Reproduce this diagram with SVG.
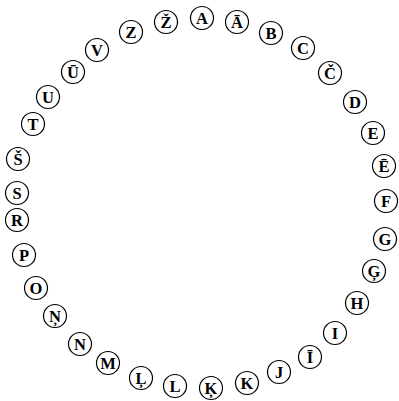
<svg xmlns="http://www.w3.org/2000/svg" width="399" height="401" viewBox="0 0 399 401">
<style>
circle{fill:#fff;stroke:#000;stroke-width:1.2}
text{font-family:"Liberation Serif","Times New Roman",serif;font-weight:bold;font-size:16.5px;text-anchor:middle;dominant-baseline:central;fill:#000}
</style>
<rect width="399" height="401" fill="#fff"/>
<g id="connectors"/>
<g id="nA"><circle cx="202" cy="18" r="11.5"/><text x="202" y="18">A</text></g>
<g id="nAa"><circle cx="237" cy="22" r="11.5"/><text x="237" y="22">Ā</text></g>
<g id="nB"><circle cx="271" cy="33" r="11.5"/><text x="271" y="33">B</text></g>
<g id="nC"><circle cx="303" cy="48" r="11.5"/><text x="303" y="48">C</text></g>
<g id="nCc"><circle cx="330" cy="73" r="11.5"/><text x="330" y="73">Č</text></g>
<g id="nD"><circle cx="355" cy="102" r="11.5"/><text x="355" y="102">D</text></g>
<g id="nE"><circle cx="373" cy="133" r="11.5"/><text x="373" y="133">E</text></g>
<g id="nEe"><circle cx="384" cy="166" r="11.5"/><text x="384" y="166">Ē</text></g>
<g id="nF"><circle cx="386" cy="201" r="11.5"/><text x="386" y="201">F</text></g>
<g id="nG"><circle cx="385" cy="239" r="11.5"/><text x="385" y="239">G</text></g>
<g id="nGg"><circle cx="374" cy="271" r="11.5"/><text x="374" y="271">Ģ</text></g>
<g id="nH"><circle cx="357" cy="303" r="11.5"/><text x="357" y="303">H</text></g>
<g id="nI"><circle cx="335" cy="333" r="11.5"/><text x="335" y="333">I</text></g>
<g id="nIi"><circle cx="310" cy="357" r="11.5"/><text x="310" y="357">Ī</text></g>
<g id="nJ"><circle cx="279" cy="372" r="11.5"/><text x="279" y="372">J</text></g>
<g id="nK"><circle cx="247" cy="383" r="11.5"/><text x="247" y="383">K</text></g>
<g id="nKk"><circle cx="211" cy="388" r="11.5"/><text x="211" y="388">Ķ</text></g>
<g id="nL"><circle cx="175" cy="386" r="11.5"/><text x="175" y="386">L</text></g>
<g id="nLl"><circle cx="141" cy="378" r="11.5"/><text x="141" y="378">Ļ</text></g>
<g id="nM"><circle cx="108" cy="363" r="11.5"/><text x="108" y="363">M</text></g>
<g id="nN"><circle cx="80" cy="344" r="11.5"/><text x="80" y="344">N</text></g>
<g id="nNn"><circle cx="55" cy="316" r="11.5"/><text x="55" y="316">Ņ</text></g>
<g id="nO"><circle cx="36" cy="288" r="11.5"/><text x="36" y="288">O</text></g>
<g id="nP"><circle cx="24" cy="255" r="11.5"/><text x="24" y="255">P</text></g>
<g id="nR"><circle cx="17" cy="220" r="11.5"/><text x="17" y="220">R</text></g>
<g id="nS"><circle cx="17" cy="193" r="11.5"/><text x="17" y="193">S</text></g>
<g id="nSs"><circle cx="18" cy="159" r="11.5"/><text x="18" y="159">Š</text></g>
<g id="nT"><circle cx="33" cy="124" r="11.5"/><text x="33" y="124">T</text></g>
<g id="nU"><circle cx="48" cy="97" r="11.5"/><text x="48" y="97">U</text></g>
<g id="nUu"><circle cx="73" cy="72" r="11.5"/><text x="73" y="72">Ū</text></g>
<g id="nV"><circle cx="97" cy="50" r="11.5"/><text x="97" y="50">V</text></g>
<g id="nZ"><circle cx="131" cy="32" r="11.5"/><text x="131" y="32">Z</text></g>
<g id="nZz"><circle cx="166" cy="22" r="11.5"/><text x="166" y="22">Ž</text></g>
</svg>
